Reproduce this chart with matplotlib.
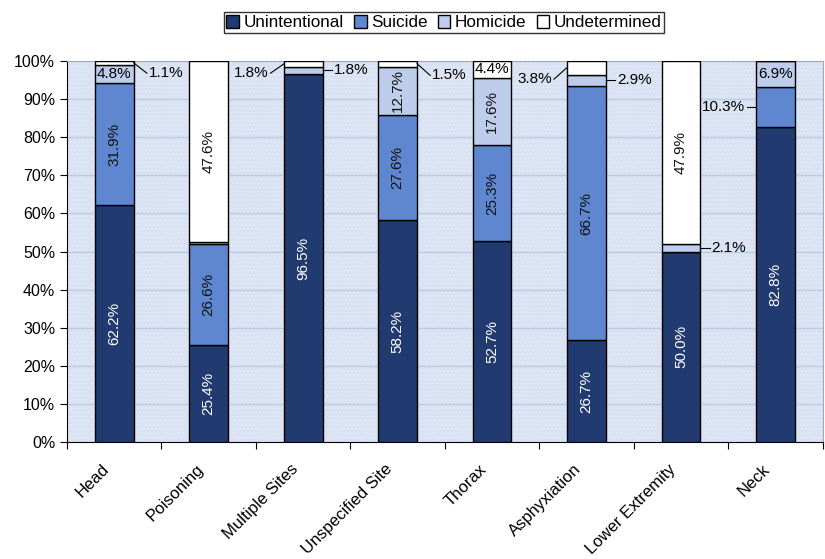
import matplotlib.pyplot as plt
from matplotlib.patches import Rectangle
from matplotlib.transforms import ScaledTranslation
import numpy as np

categories = ['Head', 'Poisoning', 'Multiple Sites', 'Unspecified Site',
              'Thorax', 'Asphyxiation', 'Lower Extremity', 'Neck']
unintentional = [62.2, 25.4, 96.5, 58.2, 52.7, 26.7, 50.0, 82.8]
suicide = [31.9, 26.6, 0.0, 27.6, 25.3, 66.7, 0.0, 10.3]
homicide = [4.8, 0.4, 1.8, 12.7, 17.6, 2.9, 2.1, 6.9]
undetermined = [1.1, 47.6, 1.8, 1.5, 4.4, 3.8, 47.9, 0.0]

series = [('Unintentional', unintentional, '#213B70'),
          ('Suicide', suicide, '#5E87CF'),
          ('Homicide', homicide, '#BDCDEB'),
          ('Undetermined', undetermined, '#FFFFFF')]

plt.rcParams['font.family'] = ['Liberation Sans', 'DejaVu Sans']
plt.rcParams['font.size'] = 11
plt.rcParams['hatch.linewidth'] = 0.6

fig = plt.figure(figsize=(8.25, 5.59), dpi=100)
ax = fig.add_axes([0.0812, 0.209, 0.916, 0.682])
ax.set_facecolor('#D9E2F2')
# dotted background texture
ax.add_patch(Rectangle((0, 0), 1, 1, transform=ax.transAxes, facecolor='none',
                       hatch='....', edgecolor='#E9EEF8', linewidth=0, zorder=0))

x = np.arange(len(categories))
w = 0.41
bottom = np.zeros(len(categories))
bars = {}
for name, vals, col in series:
    vals = np.array(vals)
    bars[name] = ax.bar(x, vals, w, bottom=bottom, color=col, edgecolor='black',
                        linewidth=1, label=name, zorder=3)
    bottom = bottom + vals

ax.set_xlim(-0.5, len(categories) - 0.5)
ax.set_ylim(0, 100)
ax.set_yticks(np.arange(0, 101, 10))
ax.set_yticklabels(['%d%%' % v for v in range(0, 101, 10)], fontsize=11.5)
ax.yaxis.grid(True, color='#BACAE7', linewidth=1, zorder=1)

# ticks between categories, labels at centers
ax.set_xticks(np.arange(-0.5, len(categories), 1))
ax.set_xticklabels([])
ax.set_xticks(x, minor=True)
ax.set_xticklabels(categories, minor=True, rotation=45, ha='right',
                   rotation_mode='anchor', fontsize=12)
ax.tick_params(axis='x', which='minor', length=0, pad=14)
ax.tick_params(axis='x', which='major', length=5, direction='out')
ax.tick_params(axis='y', length=5, direction='out')
shift = ScaledTranslation(-13 / 100, 0, fig.dpi_scale_trans)
for lab in ax.get_xticklabels(minor=True):
    lab.set_transform(lab.get_transform() + shift)
for s in ['top', 'right']:
    ax.spines[s].set_color('#A0A8B8')
for s in ['left', 'bottom']:
    ax.spines[s].set_color('black')

u = np.array(unintentional)
s = np.array(suicide)
h = np.array(homicide)
d = np.array(undetermined)

# inside labels (rotated)
def vlabel(i, base, val, color):
    ax.text(i, base + val / 2, '%.1f%%' % val, rotation=90, ha='center',
            va='center', color=color, zorder=4)

for i in range(len(categories)):
    vlabel(i, 0, u[i], 'white')
for i in [0, 1, 3, 4, 5]:
    vlabel(i, u[i], s[i], '#111111')
for i in [3, 4]:
    vlabel(i, u[i] + s[i], h[i], '#111111')
for i in [1, 6]:
    vlabel(i, u[i] + s[i] + h[i], d[i], '#111111')

# horizontal labels inside small segments
ax.text(0, u[0] + s[0] + h[0] / 2, '4.8%', ha='center', va='center', zorder=4)
ax.text(4, u[4] + s[4] + h[4] + d[4] / 2, '4.4%', ha='center', va='center', zorder=4)
ax.text(7, u[7] + s[7] + h[7] / 2, '6.9%', ha='center', va='center', zorder=4)

# leader-line labels
def leader(i, y_seg, y_txt, side, text, dx=0.14):
    x0 = i + side * w / 2
    x1 = x0 + side * dx
    ax.plot([x0, x1], [y_seg, y_txt], color='black', linewidth=0.8, zorder=4,
            clip_on=False)
    ax.text(x1 + side * 0.02, y_txt, text, ha='left' if side > 0 else 'right',
            va='center', zorder=4)

leader(0, 99.5, 96.8, 1, '1.1%')
leader(2, 99.2, 96.8, -1, '1.8%')
leader(2, 97.5, 97.5, 1, '1.8%', dx=0.1)
leader(3, 99.3, 96.2, 1, '1.5%')
leader(5, 98.3, 95.2, -1, '3.8%')
leader(5, 95.0, 95.0, 1, '2.9%', dx=0.1)
leader(6, 51.0, 51.0, 1, '2.1%', dx=0.1)
leader(7, 88.0, 88.0, -1, '10.3%', dx=0.1)

leg = fig.legend(handles=[bars[n] for n, _, _ in series],
                 labels=[n for n, _, _ in series], loc='upper center',
                 bbox_to_anchor=(0.538, 0.993), ncol=4, frameon=True,
                 fancybox=False, edgecolor='black', handlelength=0.75,
                 handleheight=0.75, handletextpad=0.25, columnspacing=0.6,
                 borderpad=0.15, fontsize=12.3)
leg.get_frame().set_linewidth(1)

fig.savefig('out.png', dpi=100)
